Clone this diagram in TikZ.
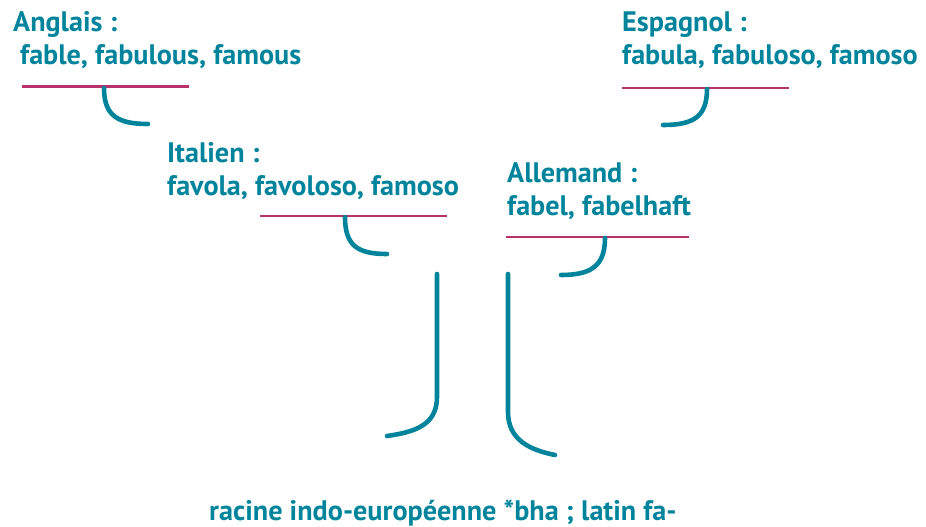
\documentclass[tikz,border=0pt]{standalone}
\usepackage{fontspec}
\setmainfont{PT Sans}
\definecolor{teal1}{RGB}{0,132,156}
\definecolor{mag}{RGB}{184,50,106}
\begin{document}
\begin{tikzpicture}[x=1pt,y=-1pt,
  lab/.style={anchor=base west,inner sep=0pt,text=teal1,font=\fontsize{28.2}{32}\selectfont\bfseries},
  rule/.style={draw=mag,line width=2.4pt},
  hook/.style={draw=teal1,line width=4.6pt,line cap=round}]
\useasboundingbox (0,0) rectangle (926,527);
% texts
\node[lab] (angT) at (13,32) {Anglais :};
\node[lab] (angW) at (20,65) {fable, fabulous, famous};
\node[lab] (espT) at (622,32) {Espagnol :};
\node[lab] (espW) at (622,65) {fabula, fabuloso, famoso};
\node[lab] (itaT) at (167,162) {Italien :};
\node[lab] (itaW) at (167,195) {favola, favoloso, famoso};
\node[lab] (allT) at (507,182) {Allemand :};
\node[lab] (allW) at (507,215) {fabel, fabelhaft};
\node[lab] (rac) at (209,520) {racine indo-européenne *bha ; latin fa-};
% rules
\coordinate (angL) at (22,86.5); \coordinate (angR) at (189,86.5);
\coordinate (espL) at (622,88); \coordinate (espR) at (789,88);
\coordinate (itaL) at (260,216); \coordinate (itaR) at (447,216);
\coordinate (allL) at (506,237); \coordinate (allR) at (689,237);
\draw[rule] (angL) -- (angR);
\draw[rule] (espL) -- (espR);
\draw[rule] (itaL) -- (itaR);
\draw[rule] (allL) -- (allR);
% small hooks
\coordinate (angA) at (104,88); \coordinate (angB) at (148,124);
\coordinate (espA) at (707,89); \coordinate (espB) at (663,125);
\coordinate (itaA) at (345,217); \coordinate (itaB) at (387,254);
\coordinate (allA) at (605,238); \coordinate (allB) at (561,275);
\draw[hook] (angA) .. controls (104,116) and (118,124) .. (angB);
\draw[hook] (espA) .. controls (707,117) and (693,125) .. (espB);
\draw[hook] (itaA) .. controls (345,246) and (358,254) .. (itaB);
\draw[hook] (allA) .. controls (605,266) and (591,275) .. (allB);
% big hooks
\coordinate (bl1) at (437,274); \coordinate (bl2) at (437,397); \coordinate (bl3) at (387,436);
\coordinate (br1) at (508,274); \coordinate (br2) at (508,412); \coordinate (br3) at (555,455);
\draw[hook] (bl1) -- (bl2) .. controls (437,425) and (415,432) .. (bl3);
\draw[hook] (br1) -- (br2) .. controls (508,440) and (530,450) .. (br3);
\end{tikzpicture}
\end{document}
